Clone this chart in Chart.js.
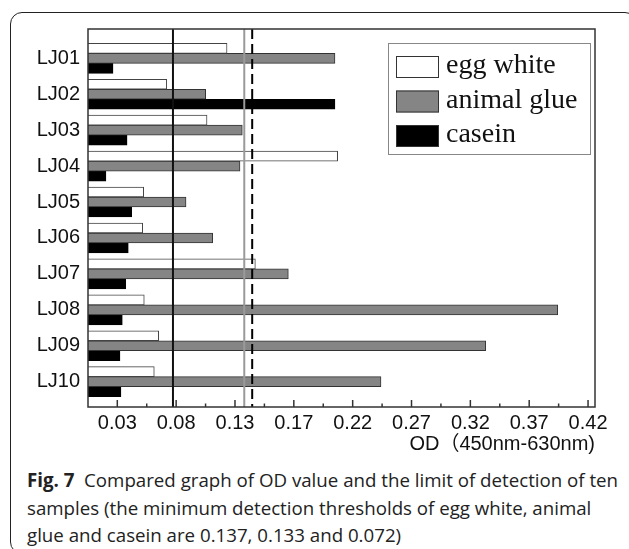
<!DOCTYPE html>
<html>
<head>
<meta charset="utf-8">
<script src="https://cdn.jsdelivr.net/npm/chart.js@4.4.1/dist/chart.umd.min.js"></script>
<style>
    body { margin: 0; width: 629px; height: 549px; overflow: hidden; background: #fff; position: relative; }
    #marco { position: absolute; left: 10px; top: 12px; width: 625px; height: 540px; border: 1.5px solid #222; border-radius: 12px; }
    #miGrafico { position: absolute; left: 0; top: 0; }
    #pie { position: absolute; left: 27px; top: 466px; font-family: 'Open Sans'; font-size: 18.7px; line-height: 27.5px; white-space: nowrap; color: #222; }
    #pie b { font-weight: 700; }
</style>
</head>
<body>
<div id="marco"></div>
<canvas id="miGrafico" width="629" height="460"></canvas>
<div id="pie"><b>Fig. 7</b>&nbsp; Compared graph of OD value and the limit of detection of ten<br>samples (the minimum detection thresholds of egg white, animal<br>glue and casein are 0.137, 0.133 and 0.072)</div>
<script>
// Datos
const muestras = ['LJ01', 'LJ02', 'LJ03', 'LJ04', 'LJ05', 'LJ06', 'LJ07', 'LJ08', 'LJ09', 'LJ10'];
const eggWhite = [0.1199, 0.0705, 0.1035, 0.2105, 0.0516, 0.0508, 0.1431, 0.0521, 0.0639, 0.0603];
const animalGlue = [0.2083, 0.1024, 0.1324, 0.1305, 0.0863, 0.1081, 0.1701, 0.3908, 0.3318, 0.2460];
const casein = [0.0265, 0.2083, 0.0380, 0.0207, 0.0418, 0.0390, 0.0369, 0.0341, 0.0322, 0.0330];

// lineas de limite (egg white, animal glue, casein)
const umbrales = [0.1405, 0.1340, 0.0756];

// marcas del eje x
const ticksX = [0.0300, 0.0782, 0.1264, 0.1746, 0.2228, 0.2710, 0.3192, 0.3674, 0.4156];
const etiquetasX = ['0.03', '0.08', '0.13', '0.17', '0.22', '0.27', '0.32', '0.37', '0.42'];
const ticksMenores = [0.0541, 0.1023, 0.1505, 0.1987, 0.2469, 0.2951, 0.3433, 0.3915];

Chart.defaults.font.family = 'Liberation Sans';
Chart.defaults.color = '#111';

// lineas, marco, marcas hacia dentro y leyenda
const decoracion = {
    id: 'decoracion',
    afterDatasetsDraw(chart) {
        const ctx = chart.ctx;
        const a = chart.chartArea;
        const x = chart.scales.x;
        ctx.save();

        const estilos = [
            { color: '#000', dash: [10, 5] },
            { color: '#9a9a9a', dash: [] },
            { color: '#111', dash: [] }
        ];
        umbrales.forEach((u, i) => {
            const px = x.getPixelForValue(u);
            ctx.beginPath();
            ctx.strokeStyle = estilos[i].color;
            ctx.lineWidth = 2;
            ctx.setLineDash(estilos[i].dash);
            ctx.moveTo(px, a.top);
            ctx.lineTo(px, a.bottom);
            ctx.stroke();
        });
        ctx.setLineDash([]);

        ctx.strokeStyle = '#333';
        ctx.lineWidth = 1.5;
        ctx.strokeRect(a.left, a.top, a.right - a.left, a.bottom - a.top);

        ctx.lineWidth = 1.5;
        ticksX.forEach(v => {
            const px = x.getPixelForValue(v);
            ctx.beginPath();
            ctx.moveTo(px, a.bottom);
            ctx.lineTo(px, a.bottom - 7);
            ctx.stroke();
        });
        ticksMenores.forEach(v => {
            const px = x.getPixelForValue(v);
            ctx.beginPath();
            ctx.moveTo(px, a.bottom);
            ctx.lineTo(px, a.bottom - 3.5);
            ctx.stroke();
        });

        // leyenda
        ctx.fillStyle = '#fff';
        ctx.fillRect(388, 43, 202, 111);
        ctx.strokeStyle = '#888';
        ctx.lineWidth = 1;
        ctx.strokeRect(388.5, 43.5, 202, 111);
        ctx.font = '28px "Liberation Serif"';
        ctx.textBaseline = 'middle';
        chart.data.datasets.forEach((ds, i) => {
            const cy = 67 + i * 34.5;
            ctx.fillStyle = ds.backgroundColor;
            ctx.fillRect(396, cy - 11, 43, 22);
            ctx.strokeStyle = '#333';
            ctx.strokeRect(396.5, cy - 10.5, 42, 21);
            ctx.fillStyle = '#111';
            ctx.fillText(ds.label, 446, cy - 1);
        });
        ctx.restore();
    }
};

const ctx = document.getElementById('miGrafico').getContext('2d');
const miGrafico = new Chart(ctx, {
    type: 'bar',
    data: {
        datasets: [
            { label: 'egg white', data: eggWhite.map((v, i) => ({ x: v, y: i + 1 })), backgroundColor: '#ffffff', borderColor: '#444', borderWidth: 1 },
            { label: 'animal glue', data: animalGlue.map((v, i) => ({ x: v, y: i + 1 })), backgroundColor: '#858585', borderColor: '#333', borderWidth: 1 },
            { label: 'casein', data: casein.map((v, i) => ({ x: v, y: i + 1 })), backgroundColor: '#000000', borderColor: '#000', borderWidth: 1 }
        ]
    },
    options: {
        indexAxis: 'y',
        responsive: false,
        animation: false,
        barThickness: 10,
        layout: { padding: { top: 29, right: 34, left: 0, bottom: 0 } },
        plugins: { legend: { display: false }, tooltip: { enabled: false } },
        scales: {
            x: {
                type: 'linear',
                min: 0.006,
                max: 0.4213,
                beginAtZero: false,
                grid: { display: false, drawTicks: false },
                border: { display: false },
                afterBuildTicks: s => { s.ticks = ticksX.map(v => ({ value: v })); },
                afterFit: s => { s.height = 53; },
                ticks: {
                    autoSkip: false,
                    maxRotation: 0,
                    padding: 4,
                    color: '#111',
                    font: { size: 20 },
                    callback: (v, i) => etiquetasX[i]
                },
                title: {
                    display: true,
                    text: 'OD（450nm-630nm)',
                    align: 'end',
                    color: '#111',
                    font: { size: 20, family: '"Liberation Sans", "Noto Sans CJK SC"' },
                    padding: { top: 0, bottom: 4 }
                }
            },
            y: {
                type: 'linear',
                reverse: true,
                offset: false,
                min: 0.1845,
                max: 10.704,
                grid: { display: false, drawTicks: false },
                border: { display: false },
                afterBuildTicks: s => { s.ticks = muestras.map((m, i) => ({ value: i + 1 })); },
                afterFit: s => { s.width = 88; },
                ticks: {
                    autoSkip: false,
                    padding: 8,
                    color: '#111',
                    font: { size: 20 },
                    callback: v => muestras[Math.round(v) - 1]
                }
            }
        }
    },
    plugins: [decoracion]
});
</script>
</body>
</html>
